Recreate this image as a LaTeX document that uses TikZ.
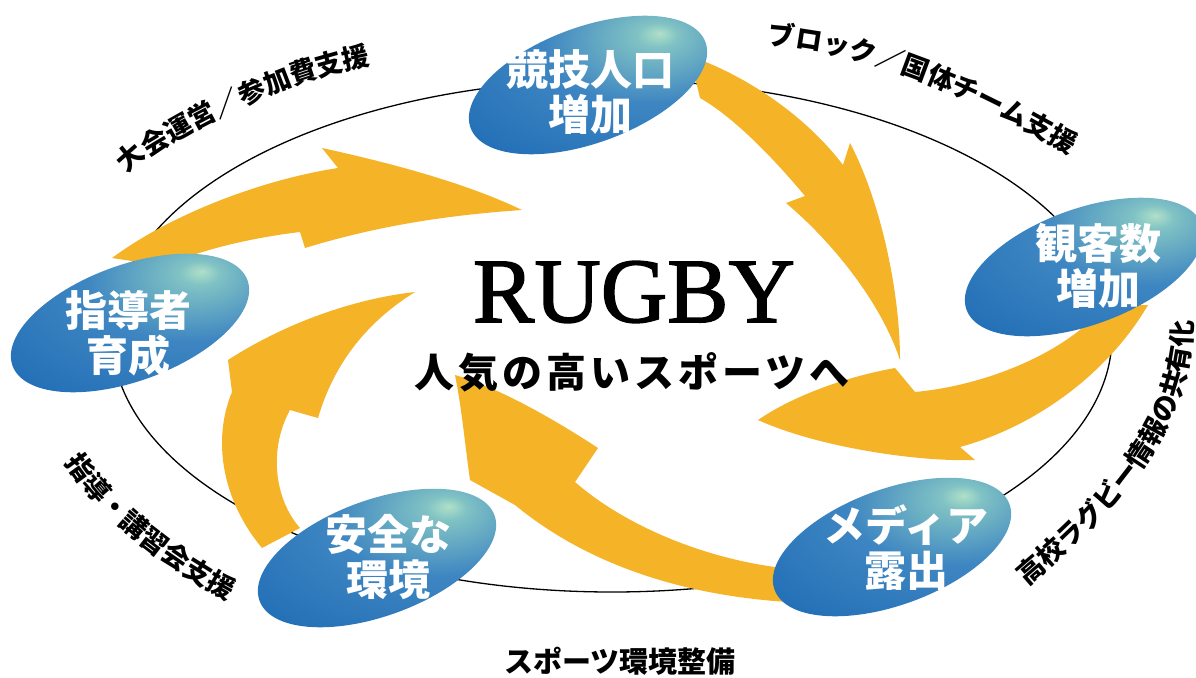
\documentclass[tikz,border=0pt]{standalone}
\usepackage{fontspec}
\newfontfamily\jp{Noto Sans CJK JP}
\newfontfamily\rug{Liberation Serif}[FakeBold=1.6]
\newcommand\jpb{\jp\bfseries}
\usetikzlibrary{decorations.text}
\definecolor{arrc}{RGB}{245,179,40}
\definecolor{glowA}{RGB}{176,224,200}
\definecolor{glowB}{RGB}{128,194,196}
\definecolor{blueM}{RGB}{62,134,194}
\definecolor{blueD}{RGB}{24,102,178}
\pgfdeclareradialshading{bglow}{\pgfpoint{14bp}{18bp}}{color(0bp)=(glowA); color(4bp)=(glowB); color(20bp)=(blueM); color(52bp)=(blueD); color(115bp)=(blueD)}
\tikzset{
  arr/.style={fill=arrc, draw=none},
  blob/.style={shading=bglow, draw=none},
  inlbl/.style={text=white, align=center, font=\jpb\fontsize{42}{45}\selectfont, inner sep=0pt},
  ring/.style={draw=black, line width=1.3pt},
  curvlbl/.style={decorate, decoration={text along path, text align=center, text={|\jpb\fontsize{27}{27}\selectfont|#1}}},
}
\begin{document}
\begin{tikzpicture}[x=1pt,y=-1pt]
\useasboundingbox (0,0) rectangle (1196,677);
\fill[white] (0,0) rectangle (1196,677);
% big ellipse
\coordinate (rc) at (612,336);
\draw[ring] (rc) ellipse [x radius=500, y radius=256];
% arrows
\fill[arr] (690,56) .. controls (745,75) and (805,115) .. (843,165) -- (850,143) .. controls (880,200) and (900,290) .. (900,360) .. controls (880,300) and (830,240) .. (786,203) -- (805,196) .. controls (775,160) and (735,118) .. (700,98) -- cycle;
\fill[arr] (1105,305) .. controls (1070,350) and (990,385) .. (915,392) -- (895,368) .. controls (840,378) and (790,398) .. (758,420) .. controls (820,448) and (920,462) .. (975,460) -- (960,447) .. controls (1040,425) and (1110,370) .. (1148,305) -- cycle;
\fill[arr] (805,570) .. controls (720,565) and (630,530) .. (575,482) -- (598,448) .. controls (540,410) and (490,385) .. (455,375) .. controls (462,410) and (465,445) .. (470,480) -- (515,505) .. controls (600,575) and (710,600) .. (810,603) -- cycle;
\fill[arr] (262,548) .. controls (222,500) and (212,440) .. (232,392) -- (228,360) .. controls (290,320) and (360,298) .. (415,292) .. controls (370,320) and (335,360) .. (318,418) -- (290,410) .. controls (268,450) and (275,500) .. (300,528) -- cycle;
\fill[arr] (112,258) .. controls (170,215) and (260,180) .. (338,168) -- (322,148) .. controls (400,165) and (470,185) .. (522,210) .. controls (450,215) and (380,225) .. (305,248) -- (300,232) .. controls (250,238) and (200,250) .. (165,266) -- cycle;
% blue ellipses
\foreach \cx/\cy in {588/85, 130/323, 1084/267, 377/558, 892/547}{
  \begin{scope}[shift={(\cx,\cy)}, rotate=20]
    \shade[blob] (0,0) ellipse [x radius=125, y radius=58];
  \end{scope}
}
\node[inlbl] (n1) at (590,92) {競技人口\\増加};
\node[inlbl] (n2) at (128,333) {指導者\\育成};
\node[inlbl] (n3) at (1098,266) {観客数\\増加};
\node[inlbl] (n4) at (388,557) {安全な\\環境};
\node[inlbl] (n5) at (906,548) {メディア\\露出};
% centre
\node[font=\rug\fontsize{92}{92}\selectfont, inner sep=0pt] (rg) at (634,292) {RUGBY};
\node[font=\jpb\fontsize{40}{42}\selectfont\addfontfeature{LetterSpace=10}, inner sep=0pt] (sub) at (632,372) {人気の高いスポーツへ};
% outer labels
\path[curvlbl={大会運営／参加費支援}]
  (120,180) -- (137,165) .. controls (204,122) and (281,84) .. (359,67) -- (380,62);
\path[curvlbl={ブロック／国体チーム支援}]
  (758,45) -- (780,46) .. controls (880,55) and (973,99) .. (1060,149) -- (1078,160);
\path[curvlbl={高校ラグビー情報の共有化}]
  (1012,600) -- (1031,583) .. controls (1100,524) and (1192,440) .. (1192,325) -- (1192,300);
\path[curvlbl={指導・講習会支援}]
  (56,448) -- (66,464) .. controls (105,522) and (162,564) .. (223,598) -- (243,608);
\node[font=\jpb\fontsize{29}{30}\selectfont, inner sep=0pt] (bot) at (620,661) {スポーツ環境整備};
\end{tikzpicture}
\end{document}
